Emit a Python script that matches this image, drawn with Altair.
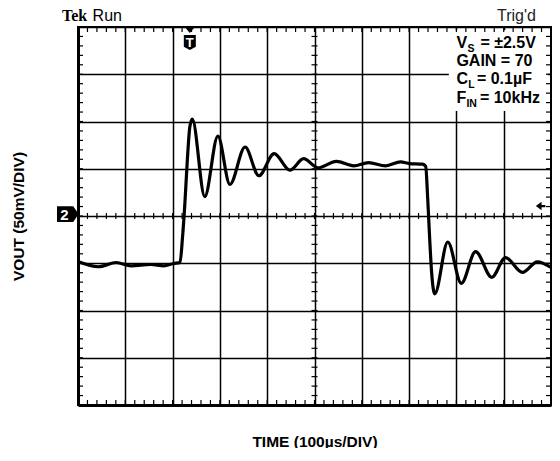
import altair as alt
import pandas as pd

# ---- waveform (time in µs, VOUT in mV; 100 µs/div, 50 mV/div) ----
t_us = [0, 42.8, 81, 112.2, 153.7, 181.4, 202.2, 215.7, 220.9, 226, 231.3, 236.4,
        241.6, 268, 295.7, 321.2, 353.2, 382.3, 414.7, 448, 477, 507, 546.4, 583,
        614.2, 650.3, 682.1, 700.8, 728.5, 735.1, 739.3, 743.4, 747.6, 754.2, 781.8,
        810.3, 840.6, 874.7, 903.8, 939.7, 970.9, 1000]
v_mv = [-48.2, -53.7, -49.2, -52.7, -51.3, -52.7, -50.3, -49.2, -23, 13.6, 60.7, 94.2,
        102.6, 20.6, 84.5, 33.5, 73, 42.6, 66, 48.5, 60.7, 51, 57.9, 53.1,
        56.5, 53.1, 57.3, 55.5, 54.8, 52.4, 18.8, -23, -59.7, -82.4, -27.5,
        -71.2, -37.7, -64.9, -44, -59.7, -48.5, -54.5]

# ---- graticule ----
x_major = list(range(0, 1001, 100))
y_major = list(range(-200, 201, 50))
x_minor = list(range(0, 1001, 20))
y_minor = list(range(-200, 201, 10))

# ---- annotation texts ----
info_main = ["V", "GAIN = 70", "C", "F"]
info_rest = ["= ±2.5V", "", "= 0.1µF", "= 10kHz"]
info_sub = ["S", "", "L", "IN"]

SANS = "Liberation Sans"
wave = pd.DataFrame({"t": t_us, "v": v_mv})
xm = pd.DataFrame({"t": x_minor})
ym = pd.DataFrame({"v": y_minor})
one = pd.DataFrame({"k": [0]})

X = alt.X("t:Q", scale=alt.Scale(domain=[0, 1000], nice=False, zero=False),
          axis=alt.Axis(values=x_major, grid=True, gridColor="black", gridWidth=1.5,
                        labels=False, ticks=False, domain=True, domainColor="black",
                        domainWidth=3, title="TIME (100µs/DIV)", titleFont=SANS,
                        titleFontSize=15.5, titleFontWeight="bold", titleColor="black",
                        titlePadding=29))
Y = alt.Y("v:Q", scale=alt.Scale(domain=[-200, 200], nice=False, zero=False),
          axis=alt.Axis(values=y_major, grid=True, gridColor="black", gridWidth=1.5,
                        labels=False, ticks=False, domain=True, domainColor="black",
                        domainWidth=3, title="VOUT (50mV/DIV)", titleFont=SANS,
                        titleFontSize=15.5, titleFontWeight="bold", titleColor="black",
                        titlePadding=52))

# white box behind the info text
box = alt.Chart(one).mark_rect(color="white").encode(
    x=alt.datum(784), x2=alt.datum(993), y=alt.datum(196.5), y2=alt.datum(111))

line = alt.Chart(wave).mark_line(color="black", strokeWidth=3.2,
                                 interpolate="monotone").encode(x=X, y=Y)

R = dict(color="black", strokeWidth=1.2)
top_t = alt.Chart(xm).mark_rule(y2Offset=5, **R).encode(
    x="t:Q", y=alt.datum(200), y2=alt.datum(200))
bot_t = alt.Chart(xm).mark_rule(y2Offset=-5, **R).encode(
    x="t:Q", y=alt.datum(-200), y2=alt.datum(-200))
mid_x = alt.Chart(xm).mark_rule(yOffset=-3, y2Offset=3, **R).encode(
    x="t:Q", y=alt.datum(0), y2=alt.datum(0))
left_t = alt.Chart(ym).mark_rule(x2Offset=5, **R).encode(
    y="v:Q", x=alt.datum(0), x2=alt.datum(0))
right_t = alt.Chart(ym).mark_rule(x2Offset=-5, **R).encode(
    y="v:Q", x=alt.datum(1000), x2=alt.datum(1000))
mid_y = alt.Chart(ym).mark_rule(xOffset=-3, x2Offset=3, **R).encode(
    y="v:Q", x=alt.datum(500), x2=alt.datum(500))


def txt(text, x, y, size, dx=0, dy=0, weight="bold", font=SANS, color="black",
        align="left", pixel=False):
    enc = (dict(x=alt.value(x), y=alt.value(y)) if pixel
           else dict(x=alt.datum(x), y=alt.datum(y)))
    return alt.Chart(one).mark_text(text=text, fontSize=size, fontWeight=weight,
                                    font=font, color=color, align=align,
                                    baseline="alphabetic", dx=dx, dy=dy).encode(**enc)


baselines = [177.7, 158.4, 139.3, 119.1]
sub_dx = [11, 0, 11.8, 10]
rest_dx = [24, 0, 20.5, 23.5]
info = []
for i in range(4):
    info.append(txt(info_main[i], 800, baselines[i], 16))
    if info_sub[i]:
        info.append(txt(info_sub[i], 800, baselines[i], 10.5, dx=sub_dx[i], dy=3.5))
    if info_rest[i]:
        info.append(txt(info_rest[i], 800, baselines[i], 16, dx=rest_dx[i]))

# header texts
tek = txt("Tek", -16, -6.3, 16, font="Liberation Serif", pixel=True)
run = txt("Run", 14.6, -6.3, 16, weight="normal", pixel=True)
trig = txt("Trig'd", 419, -6.3, 16, weight="normal", color="#222222", pixel=True)

# trigger marker
trig_tri = alt.Chart(one).mark_point(shape="M-1,-0.6 L1,-0.6 L0,0.6 Z", filled=True,
                                     color="black", size=100, opacity=1).encode(
    x=alt.datum(236.4), y=alt.value(3))
trig_shield = alt.Chart(one).mark_point(shape="M-0.8,-1 L0.8,-1 L0.8,0.55 L0,1 L-0.8,0.55 Z",
                                        filled=True, color="black", size=225, opacity=1).encode(
    x=alt.datum(236.4), y=alt.value(15.5))
trig_T = alt.Chart(one).mark_text(text="T", fontSize=13, fontWeight="bold", font=SANS,
                                  color="white", align="center",
                                  baseline="alphabetic").encode(
    x=alt.datum(236.4), y=alt.value(20))

# channel 2 marker
ch2 = alt.Chart(one).mark_point(shape="M-1,-0.73 L0.5,-0.73 L1,0 L0.5,0.73 L-1,0.73 Z",
                                filled=True, color="black", size=467, opacity=1).encode(
    x=alt.value(-10.2), y=alt.datum(2))
ch2_t = alt.Chart(one).mark_text(text="2", fontSize=15, fontWeight="bold", font=SANS,
                                 color="white", align="center", baseline="alphabetic",
                                 dy=5.5).encode(x=alt.value(-13.5), y=alt.datum(2))

# right-side arrow
arrow = alt.Chart(one).mark_point(
    shape="M-1,0 L0.2,-0.9 L0.2,-0.25 L1,-0.25 L1,0.25 L0.2,0.25 L0.2,0.9 Z",
    filled=True, color="black", size=90, opacity=1).encode(
    x=alt.datum(978), y=alt.datum(10.5))

chart = alt.layer(
    line, box, top_t, bot_t, mid_x, left_t, right_t, mid_y,
    *info, tek, run, trig, trig_tri, trig_shield, trig_T, ch2, ch2_t, arrow
).properties(
    width=473, height=378,
    autosize=alt.AutoSizeParams(type="none"),
    padding={"left": 70, "top": 19, "right": 1, "bottom": 43},
    background="white",
).configure_view(stroke="black", strokeWidth=2)

chart.save("out.html", embed_options={"renderer": "svg", "actions": False})
